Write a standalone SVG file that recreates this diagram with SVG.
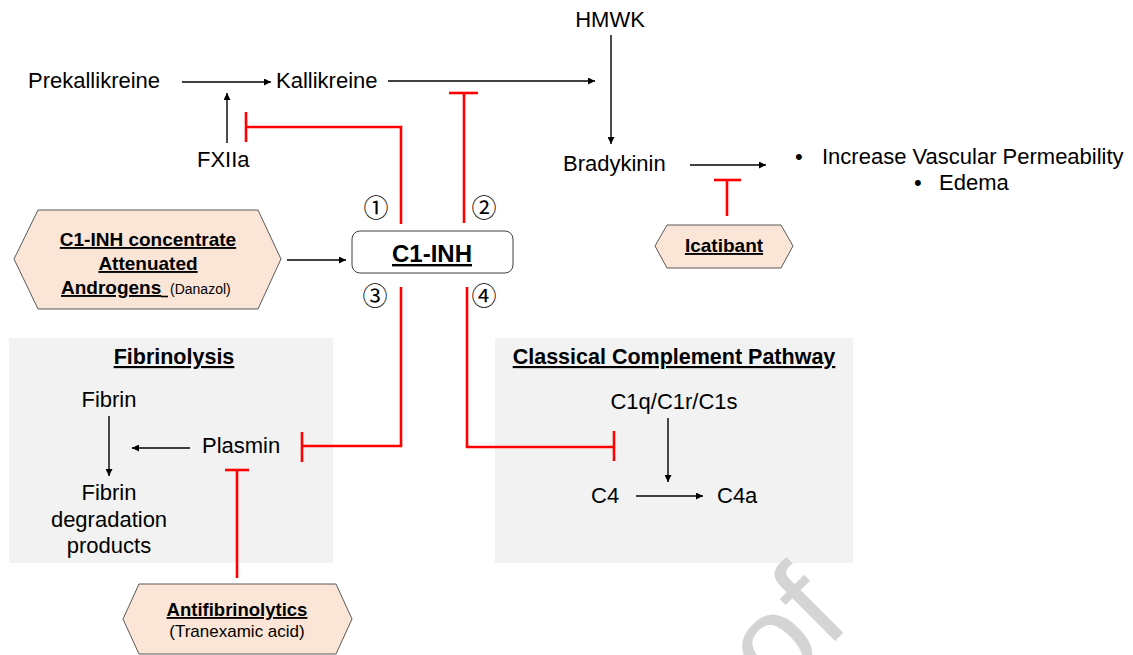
<svg xmlns="http://www.w3.org/2000/svg" width="1133" height="655" viewBox="0 0 1133 655">
<style>
.t{font-family:"Liberation Sans",Arial,sans-serif;font-size:22px;fill:#000}
.b{font-family:"Liberation Sans",Arial,sans-serif;font-weight:bold;fill:#000;text-decoration:underline}
.s{font-family:"Liberation Sans",Arial,sans-serif;fill:#000}
.c{font-family:"Noto Sans CJK JP",sans-serif;font-size:25px;fill:#000}
.ar{stroke:#000;stroke-width:1.4;fill:none}
.inh{stroke:#ff0000;stroke-width:2.6;fill:none}
.hex{fill:#fbe5d6;stroke:#595959;stroke-width:1}
.box{fill:#f2f2f2}
</style>
<defs>
<marker id="ah" viewBox="0 0 10 10" refX="10" refY="5" markerWidth="8" markerHeight="7" markerUnits="userSpaceOnUse" orient="auto"><path d="M0,0 L10,5 L0,10 z" fill="#000"/></marker>
</defs>

<g id="fibrinolysis-box">
<rect class="box" x="9" y="338" width="324" height="225"/>
<text class="b" x="174" y="364" font-size="21.5" text-anchor="middle">Fibrinolysis</text>
</g>
<g id="complement-box">
<rect class="box" x="495" y="338" width="358" height="225"/>
<text class="b" x="674" y="364" font-size="21.5" text-anchor="middle">Classical Complement Pathway</text>
</g>

<g id="connectors">
<line class="ar" x1="182" y1="82" x2="271" y2="82" marker-end="url(#ah)"/>
<line class="ar" x1="388" y1="81" x2="595" y2="81" marker-end="url(#ah)"/>
<line class="ar" x1="611" y1="35" x2="611" y2="144" marker-end="url(#ah)"/>
<line class="ar" x1="227" y1="143" x2="227" y2="93" marker-end="url(#ah)"/>
<line class="ar" x1="690" y1="165" x2="766" y2="165" marker-end="url(#ah)"/>
<line class="ar" x1="287" y1="260" x2="346" y2="260" marker-end="url(#ah)"/>
<line class="ar" x1="109" y1="416" x2="109" y2="476" marker-end="url(#ah)"/>
<line class="ar" x1="190" y1="448" x2="132" y2="448" marker-end="url(#ah)"/>
<line class="ar" x1="668" y1="418" x2="668" y2="482" marker-end="url(#ah)"/>
<line class="ar" x1="636" y1="496" x2="703" y2="496" marker-end="url(#ah)"/>
<polyline class="inh" points="401,224 401,127 246,127"/>
<line class="inh" x1="246" y1="112" x2="246" y2="142"/>
<polyline class="inh" points="464,223 464,93"/>
<line class="inh" x1="449" y1="93" x2="478" y2="93"/>
<polyline class="inh" points="401,287 401,446 302,446"/>
<line class="inh" x1="302" y1="432" x2="302" y2="462"/>
<polyline class="inh" points="467,287 467,447 614,447"/>
<line class="inh" x1="614" y1="431" x2="614" y2="461"/>
<line class="inh" x1="237" y1="578" x2="237" y2="470"/>
<line class="inh" x1="225" y1="470" x2="249" y2="470"/>
<line class="inh" x1="727" y1="216" x2="727" y2="180"/>
<line class="inh" x1="714" y1="180" x2="741" y2="180"/>
</g>

<g id="prekallikreine"><text class="t" x="28" y="88">Prekallikreine</text></g>
<g id="kallikreine"><text class="t" x="276" y="88">Kallikreine</text></g>
<g id="hmwk"><text class="t" x="610" y="27" text-anchor="middle">HMWK</text></g>
<g id="fxiia"><text class="t" x="197" y="167">FXIIa</text></g>
<g id="bradykinin"><text class="t" x="563" y="171">Bradykinin</text></g>
<g id="effects">
<text class="t" x="795" y="164">•</text>
<text class="t" x="822" y="164">Increase Vascular Permeability</text>
<text class="t" x="914" y="190">•</text>
<text class="t" x="939" y="190">Edema</text>
</g>

<g id="c1inh">
<rect x="352" y="231" width="161" height="42" rx="8" fill="#fff" stroke="#404040" stroke-width="1"/>
<text class="b" x="432" y="262" font-size="24" text-anchor="middle">C1-INH</text>
<text class="c" x="376" y="217" text-anchor="middle">①</text>
<text class="c" x="484" y="217" text-anchor="middle">②</text>
<text class="c" x="375" y="305" text-anchor="middle">③</text>
<text class="c" x="484" y="305" text-anchor="middle">④</text>
</g>

<g id="c1inh-therapy">
<polygon class="hex" points="14,259 38,210 258,210 281,259 258,309 38,309"/>
<text class="b" x="148" y="246" font-size="19" text-anchor="middle">C1-INH concentrate</text>
<text class="b" x="148" y="270" font-size="19" text-anchor="middle">Attenuated</text>
<text class="b" x="61" y="294" font-size="19">Androgens</text>
<text class="s" x="170" y="294" font-size="14">(Danazol)</text>
<line x1="161" y1="296.5" x2="168" y2="296.5" stroke="#000" stroke-width="1.6"/>
</g>

<g id="icatibant">
<polygon class="hex" points="655,246 667,225 781,225 793,246 781,268 667,268"/>
<text class="b" x="724" y="252" font-size="19" text-anchor="middle">Icatibant</text>
</g>

<g id="fibrin"><text class="t" x="109" y="407" text-anchor="middle">Fibrin</text></g>
<g id="plasmin"><text class="t" x="202" y="453">Plasmin</text></g>
<g id="fdp">
<text class="t" x="109" y="500" text-anchor="middle">Fibrin</text>
<text class="t" x="109" y="527" text-anchor="middle">degradation</text>
<text class="t" x="109" y="553" text-anchor="middle">products</text>
</g>

<g id="c1qrs"><text class="t" x="674" y="409" text-anchor="middle">C1q/C1r/C1s</text></g>
<g id="c4"><text class="t" x="591" y="503">C4</text></g>
<g id="c4a"><text class="t" x="717" y="503">C4a</text></g>

<g id="antifibrinolytics">
<polygon class="hex" points="123,619 139,584 336,584 352,619 336,654 139,654"/>
<text class="b" x="237" y="616" font-size="18.5" text-anchor="middle">Antifibrinolytics</text>
<text class="s" x="237" y="637" font-size="17" text-anchor="middle">(Tranexamic acid)</text>
</g>

<g id="watermark">
<text x="776" y="700" transform="rotate(-45 776 700)" font-family="Liberation Sans, Arial, sans-serif" font-size="130" fill="#d4d4d4">of</text>
</g>
</svg>
